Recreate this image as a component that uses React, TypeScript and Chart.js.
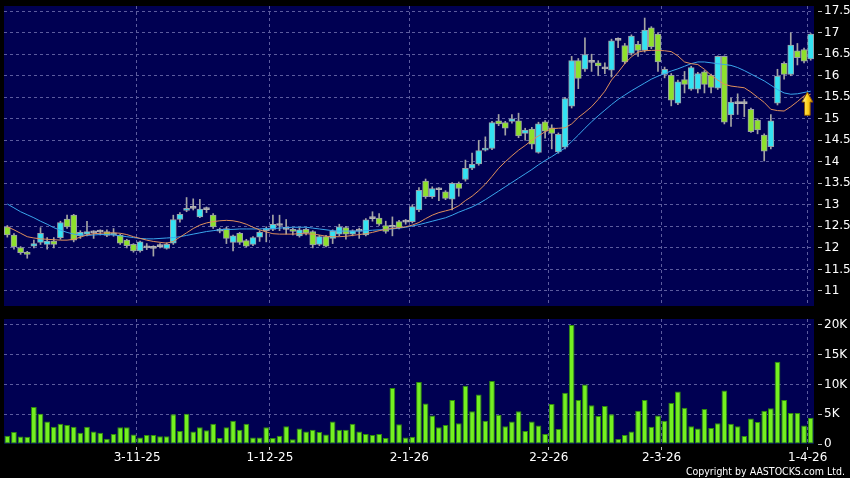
import React, { useEffect, useRef } from 'react';
import { Chart, registerables } from 'chart.js';

Chart.register(...registerables);

// ---------- data ----------
const HOLIDAYS = ['2025-10-07', '2025-10-29', '2025-12-25', '2025-12-26', '2026-01-01', '2026-02-17', '2026-02-18', '2026-02-19'];

function tradingDays(startISO: string, endISO: string): string[] {
  const out: string[] = [];
  const d = new Date(startISO + 'T00:00:00Z');
  const end = new Date(endISO + 'T00:00:00Z').getTime();
  while (d.getTime() <= end) {
    const iso = d.toISOString().slice(0, 10);
    const wd = d.getUTCDay();
    if (wd !== 0 && wd !== 6 && !HOLIDAYS.includes(iso)) {
      out.push(`${d.getUTCDate()}-${d.getUTCMonth() + 1}-${String(d.getUTCFullYear()).slice(2)}`);
    }
    d.setUTCDate(d.getUTCDate() + 1);
  }
  return out;
}

const CATEGORIES = tradingDays('2025-10-02', '2026-04-01');
const TICK_LABELS = ['3-11-25', '1-12-25', '2-1-26', '2-2-26', '2-3-26', '1-4-26'];
const PRICE_TICKS = [11, 11.5, 12, 12.5, 13, 13.5, 14, 14.5, 15, 15.5, 16, 16.5, 17, 17.5];
const VOLUME_TICKS = [0, 5, 10, 15, 20];

const OPEN = [
  12.49, 12.30, 12.01, 11.90, 12.04, 12.13, 12.08, 12.16, 12.24, 12.67,
  12.76, 12.28, 12.32, 12.35, 12.37, 12.38, 12.30, 12.30, 12.18, 12.08,
  11.93, 12.00, 11.99, 12.03, 11.99, 12.11, 12.66, 12.87, 12.92, 12.72,
  12.89, 12.76, 12.39, 12.45, 12.13, 12.34, 12.17, 12.08, 12.25, 12.40,
  12.43, 12.52, 12.43, 12.43, 12.28, 12.43, 12.38, 12.08, 12.26, 12.22,
  12.32, 12.47, 12.32, 12.39, 12.30, 12.68, 12.69, 12.52, 12.48, 12.61,
  12.60, 12.61, 12.88, 13.55, 13.19, 13.35, 13.30, 13.13, 13.50, 13.59,
  13.85, 13.95, 14.27, 14.31, 14.95, 14.91, 14.94, 14.95, 14.66, 14.76,
  14.22, 14.93, 14.79, 14.23, 14.34, 15.29, 16.35, 16.15, 16.31, 16.30,
  16.16, 16.13, 16.82, 16.70, 16.52, 16.73, 16.59, 17.11, 16.97, 16.03,
  16.01, 15.36, 15.91, 15.69, 15.69, 16.09, 16.01, 15.71, 16.45, 15.09,
  15.35, 15.35, 15.22, 14.97, 14.62, 14.35, 15.36, 16.29, 16.03, 16.58,
  16.61, 16.39,
];
const HIGH = [
  12.52, 12.33, 12.03, 11.92, 12.18, 12.47, 12.24, 12.24, 12.62, 12.76,
  12.78, 12.40, 12.62, 12.40, 12.42, 12.42, 12.45, 12.32, 12.20, 12.10,
  12.16, 12.10, 12.05, 12.10, 12.12, 12.76, 12.82, 13.17, 13.14, 13.13,
  12.95, 12.80, 12.46, 12.48, 12.30, 12.36, 12.20, 12.26, 12.40, 12.49,
  12.76, 12.76, 12.66, 12.46, 12.47, 12.46, 12.40, 12.29, 12.29, 12.42,
  12.55, 12.50, 12.42, 12.46, 12.68, 12.84, 12.80, 12.62, 12.72, 12.64,
  12.66, 13.00, 13.40, 13.60, 13.42, 13.40, 13.33, 13.52, 13.53, 14.04,
  14.20, 14.50, 14.58, 14.94, 15.10, 14.94, 15.10, 15.13, 14.78, 14.80,
  14.92, 14.96, 14.86, 14.67, 15.50, 16.45, 16.40, 16.88, 16.50, 16.35,
  16.30, 16.85, 16.88, 16.75, 16.95, 16.80, 17.34, 17.14, 17.00, 16.20,
  16.05, 15.90, 16.10, 16.22, 16.08, 16.12, 16.04, 16.46, 16.46, 15.48,
  15.58, 15.45, 15.25, 15.00, 14.65, 15.10, 16.15, 16.32, 17.00, 16.75,
  16.64, 16.98,
];
const LOW = [
  12.25, 11.97, 11.85, 11.76, 12.00, 12.08, 11.97, 12.00, 12.20, 12.45,
  12.14, 12.22, 12.28, 12.22, 12.30, 12.26, 12.27, 12.08, 12.00, 11.90,
  11.90, 11.96, 11.81, 12.00, 11.97, 12.08, 12.60, 12.84, 12.88, 12.70,
  12.82, 12.45, 12.35, 12.10, 11.93, 12.08, 12.02, 12.05, 12.15, 12.14,
  12.40, 12.40, 12.32, 12.30, 12.25, 12.30, 12.00, 12.05, 12.02, 12.10,
  12.28, 12.20, 12.28, 12.22, 12.28, 12.62, 12.52, 12.34, 12.28, 12.44,
  12.55, 12.58, 12.84, 13.15, 13.15, 13.10, 13.12, 12.88, 13.20, 13.55,
  13.82, 13.92, 14.25, 14.28, 14.84, 14.62, 14.90, 14.56, 14.50, 14.30,
  14.20, 14.55, 14.30, 14.20, 14.30, 15.25, 15.70, 16.10, 16.10, 16.00,
  16.05, 15.97, 16.65, 16.28, 16.48, 16.45, 16.55, 16.63, 16.10, 15.95,
  15.30, 15.33, 15.60, 15.66, 15.60, 15.60, 15.60, 15.68, 14.88, 14.82,
  15.10, 15.05, 14.68, 14.65, 14.02, 14.30, 15.32, 15.92, 16.00, 16.25,
  16.30, 16.36,
];
const CLOSE = [
  12.30, 12.03, 11.89, 11.85, 12.10, 12.34, 12.16, 12.08, 12.59, 12.49,
  12.18, 12.36, 12.38, 12.37, 12.38, 12.29, 12.35, 12.11, 12.05, 11.93,
  12.14, 12.02, 12.01, 12.05, 12.08, 12.66, 12.78, 12.92, 12.94, 12.90,
  12.91, 12.49, 12.41, 12.22, 12.28, 12.13, 12.04, 12.24, 12.36, 12.44,
  12.55, 12.54, 12.45, 12.38, 12.42, 12.35, 12.07, 12.26, 12.04, 12.39,
  12.49, 12.32, 12.40, 12.41, 12.65, 12.70, 12.55, 12.38, 12.50, 12.47,
  12.62, 12.96, 13.34, 13.19, 13.38, 13.37, 13.15, 13.50, 13.38, 13.85,
  13.94, 14.26, 14.31, 14.91, 14.88, 14.78, 15.00, 14.60, 14.74, 14.41,
  14.88, 14.71, 14.66, 14.64, 15.47, 16.35, 15.94, 16.49, 16.33, 16.23,
  16.18, 16.81, 16.84, 16.32, 16.92, 16.59, 17.06, 16.67, 16.32, 16.15,
  15.43, 15.86, 15.80, 16.19, 16.05, 15.80, 15.73, 16.45, 14.92, 15.39,
  15.37, 15.37, 14.70, 14.74, 14.25, 14.95, 15.99, 16.03, 16.71, 16.42,
  16.34, 16.97,
];
const MA10 = [
  12.49, 12.42, 12.34, 12.26, 12.23, 12.21, 12.20, 12.19, 12.18, 12.18,
  12.20, 12.25, 12.30, 12.33, 12.34, 12.35, 12.35, 12.34, 12.31, 12.26,
  12.22, 12.18, 12.15, 12.13, 12.11, 12.15, 12.25, 12.35, 12.45, 12.53,
  12.58, 12.61, 12.63, 12.64, 12.63, 12.60, 12.55, 12.48, 12.42, 12.37,
  12.33, 12.32, 12.32, 12.32, 12.33, 12.33, 12.32, 12.30, 12.27, 12.26,
  12.26, 12.27, 12.29, 12.31, 12.33, 12.36, 12.40, 12.43, 12.45, 12.47,
  12.49, 12.53, 12.59, 12.68, 12.76, 12.82, 12.86, 12.90, 12.98, 13.10,
  13.20, 13.33, 13.48, 13.66, 13.85, 14.00, 14.14, 14.27, 14.38, 14.50,
  14.60, 14.70, 14.77, 14.78, 14.79, 14.88, 15.03, 15.15, 15.28, 15.45,
  15.64, 15.90, 16.08, 16.28, 16.44, 16.55, 16.58, 16.59, 16.59, 16.58,
  16.56, 16.46, 16.32, 16.28, 16.26, 16.15, 16.01, 15.90, 15.80, 15.76,
  15.74, 15.72, 15.62, 15.50, 15.38, 15.22, 15.19, 15.18, 15.28, 15.40,
  15.53, 15.57,
];
const MA20 = [
  13.02, 12.93, 12.84, 12.77, 12.70, 12.62, 12.55, 12.47, 12.41, 12.36,
  12.32, 12.30, 12.29, 12.30, 12.31, 12.31, 12.30, 12.28, 12.26, 12.24,
  12.22, 12.21, 12.21, 12.22, 12.23, 12.24, 12.26, 12.29, 12.32, 12.35,
  12.38, 12.40, 12.42, 12.43, 12.43, 12.44, 12.44, 12.44, 12.44, 12.45,
  12.45, 12.46, 12.47, 12.48, 12.48, 12.48, 12.46, 12.44, 12.42, 12.40,
  12.39, 12.39, 12.39, 12.39, 12.40, 12.41, 12.42, 12.43, 12.44, 12.46,
  12.48, 12.51, 12.54, 12.58, 12.62, 12.66, 12.70, 12.76, 12.83, 12.89,
  12.95, 13.03, 13.12, 13.22, 13.32, 13.42, 13.52, 13.62, 13.72, 13.82,
  13.93, 14.03, 14.12, 14.22, 14.32, 14.47, 14.62, 14.78, 14.93, 15.07,
  15.20, 15.33, 15.45, 15.55, 15.65, 15.74, 15.83, 15.92, 15.99, 16.05,
  16.11, 16.16, 16.22, 16.28, 16.32, 16.32, 16.30, 16.28, 16.26, 16.24,
  16.19, 16.12, 16.04, 15.96, 15.88, 15.78, 15.68, 15.60, 15.57, 15.58,
  15.61, 15.64,
];
const VOLUME_K = [
  1.4, 2.0, 1.25, 1.2, 6.2, 5.1, 3.8, 2.9, 3.4, 3.2,
  2.9, 1.9, 2.9, 2.1, 1.9, 0.9, 1.7, 2.8, 2.8, 1.6,
  1.1, 1.5, 1.5, 1.3, 1.3, 5.0, 2.2, 5.1, 2.1, 2.8,
  2.3, 3.4, 1.0, 2.8, 3.9, 2.4, 3.4, 1.1, 1.1, 2.8,
  1.0, 1.4, 3.0, 0.8, 2.6, 2.1, 2.4, 2.0, 1.6, 3.8,
  2.4, 2.4, 3.4, 2.1, 1.7, 1.5, 1.7, 1.0, 9.4, 3.3,
  1.1, 1.2, 10.4, 6.8, 4.8, 2.8, 3.2, 7.4, 3.5, 9.8,
  5.5, 8.3, 3.9, 10.6, 4.9, 3.0, 3.8, 5.5, 2.2, 3.8,
  3.1, 1.7, 6.7, 2.5, 8.6, 20.0, 7.4, 10.0, 6.5, 4.7,
  6.4, 5.0, 0.85, 1.5, 2.1, 5.6, 7.4, 2.9, 4.8, 3.9,
  6.9, 8.8, 6.1, 3.0, 2.6, 5.9, 2.7, 3.5, 9.0, 3.4,
  3.0, 1.35, 4.3, 3.7, 5.6, 6.0, 13.8, 7.4, 5.2, 5.2,
  3.1, 4.4,
];
const ARROW = { at: 120.5, tip: 15.62, base: 15.08 };

// ---------- styles ----------
const PLOT_BG = '#000052';
const GRID = '#5c5c9e';
const UP = '#33e2f2';
const DOWN = '#8ee02c';
const DOJI = '#b4b4b4';
const EDGE = '#9aa0a8';
const FONT = { family: 'DejaVu Sans', size: 12 };

const TICK_IDX = TICK_LABELS.map((l) => CATEGORIES.indexOf(l));

const bgPlugin = {
  id: 'plotBg',
  beforeDraw(chart: any) {
    const { ctx, chartArea } = chart;
    ctx.save();
    ctx.fillStyle = PLOT_BG;
    ctx.fillRect(chartArea.left, chartArea.top, chartArea.right - chartArea.left, chartArea.bottom - chartArea.top);
    ctx.restore();
  },
};

const arrowPlugin = {
  id: 'upArrow',
  afterDatasetsDraw(chart: any) {
    const { ctx, scales } = chart;
    const cx = scales.x.getPixelForValue(ARROW.at);
    const yt = scales.y.getPixelForValue(ARROW.tip);
    const yb = scales.y.getPixelForValue(ARROW.base);
    const hw = 5.5, sw = 2.8, hh = 10;
    ctx.save();
    ctx.beginPath();
    ctx.moveTo(cx, yt);
    ctx.lineTo(cx + hw, yt + hh);
    ctx.lineTo(cx + sw, yt + hh);
    ctx.lineTo(cx + sw, yb);
    ctx.lineTo(cx - sw, yb);
    ctx.lineTo(cx - sw, yt + hh);
    ctx.lineTo(cx - hw, yt + hh);
    ctx.closePath();
    const g = ctx.createLinearGradient(cx - hw, 0, cx + hw, 0);
    g.addColorStop(0, '#fff6a8');
    g.addColorStop(0.5, '#ffd31c');
    g.addColorStop(1, '#e39600');
    ctx.fillStyle = g;
    ctx.fill();
    ctx.strokeStyle = '#8a5800';
    ctx.lineWidth = 1;
    ctx.stroke();
    ctx.restore();
  },
};

function xGridColor(c: any) {
  return TICK_IDX.includes(c.index) ? GRID : 'rgba(0,0,0,0)';
}

export default function App() {
  const priceRef = useRef<HTMLCanvasElement>(null);
  const volRef = useRef<HTMLCanvasElement>(null);

  useEffect(() => {
    const bodies = OPEN.map((o, i) => {
      const c = CLOSE[i];
      return [Math.min(o, c), Math.max(o, c)];
    });
    const wicks = LOW.map((l, i) => [l, HIGH[i]]);
    const kind = OPEN.map((o, i) => (Math.abs(CLOSE[i] - o) <= 0.021 ? 'doji' : CLOSE[i] > o ? 'up' : 'down'));
    const fill = kind.map((k) => (k === 'doji' ? DOJI : k === 'up' ? UP : DOWN));
    const edge = kind.map((k) => (k === 'doji' ? DOJI : EDGE));

    const price = new Chart(priceRef.current!, {
      type: 'bar',
      data: {
        labels: CATEGORIES,
        datasets: [
          { type: 'line', label: 'MA10', data: MA10, borderColor: '#e0905c', borderWidth: 1, pointRadius: 0, order: 0 } as any,
          { type: 'line', label: 'MA20', data: MA20, borderColor: '#3aa6ec', borderWidth: 1, pointRadius: 0, order: 0 } as any,
          {
            type: 'bar', label: 'body', data: bodies, backgroundColor: fill, borderColor: edge, borderWidth: 1,
            borderSkipped: false, barThickness: 6, grouped: false, order: 1, minBarLength: 2,
          } as any,
          { type: 'bar', label: 'wick', data: wicks, backgroundColor: '#a4a4a4', barThickness: 1, grouped: false, order: 2 } as any,
        ],
      },
      options: {
        animation: false,
        responsive: false,
        maintainAspectRatio: false,
        layout: { padding: { left: 4, top: 6, right: 0, bottom: 4 } },
        plugins: { legend: { display: false }, tooltip: { enabled: false } },
        scales: {
          x: {
            offset: true,
            grid: { offset: true, drawTicks: false, color: xGridColor },
            border: { display: false, dash: [3, 3] },
            ticks: { display: false, autoSkip: false },
            afterFit: (a: any) => { a.height = 0; a.paddingLeft = 0; a.paddingRight = 0; },
          },
          y: {
            position: 'right',
            min: 10.65,
            max: 17.62,
            afterBuildTicks: (a: any) => { a.ticks = PRICE_TICKS.map((v) => ({ value: v })); },
            ticks: { color: '#ffffff', font: FONT, padding: 2, callback: (v: any) => String(v) },
            grid: { color: GRID, drawTicks: true, tickLength: 8, tickColor: '#b8b8b8', tickBorderDash: [0, 4, 4] },
            border: { display: false, dash: [3, 3] },
            afterFit: (a: any) => { a.width = 36; a.paddingTop = 0; a.paddingBottom = 0; },
          },
        },
      } as any,
      plugins: [bgPlugin, arrowPlugin],
    });

    const vol = new Chart(volRef.current!, {
      type: 'bar',
      data: {
        labels: CATEGORIES,
        datasets: [
          {
            label: 'Volume', data: VOLUME_K, backgroundColor: '#74f020', borderColor: '#2f8c0c', borderWidth: 1,
            borderSkipped: false, barPercentage: 0.86, categoryPercentage: 1,
          } as any,
        ],
      },
      options: {
        animation: false,
        responsive: false,
        maintainAspectRatio: false,
        layout: { padding: { left: 4, top: 9, right: 0, bottom: 0 } },
        plugins: { legend: { display: false }, tooltip: { enabled: false } },
        scales: {
          x: {
            offset: true,
            grid: {
              offset: true, drawTicks: true, tickLength: 6, color: xGridColor,
              tickColor: (c: any) => (TICK_IDX.includes(c.index) ? '#b8b8b8' : 'rgba(0,0,0,0)'),
              tickBorderDash: [0, 3, 3],
            },
            border: { display: false, dash: [3, 3] },
            ticks: {
              autoSkip: false, maxRotation: 0, minRotation: 0, color: '#ffffff', font: FONT, padding: 1, labelOffset: -3,
              callback: (_v: any, i: number) => (TICK_LABELS.includes(CATEGORIES[i]) ? CATEGORIES[i] : ''),
            },
            afterFit: (a: any) => { a.height = 34; a.paddingLeft = 0; a.paddingRight = 0; },
          },
          y: {
            position: 'right',
            min: 0,
            max: 21,
            afterBuildTicks: (a: any) => { a.ticks = VOLUME_TICKS.map((v) => ({ value: v })); },
            ticks: { color: '#ffffff', font: FONT, padding: 2, callback: (v: any) => (v === 0 ? '0' : v + 'K') },
            grid: {
              color: (c: any) => (c.tick && c.tick.value === 0 ? 'rgba(0,0,0,0)' : GRID),
              drawTicks: true, tickLength: 8, tickColor: '#b8b8b8', tickBorderDash: [0, 4, 4],
            },
            border: { display: false, dash: [3, 3] },
            afterFit: (a: any) => { a.width = 36; a.paddingTop = 0; a.paddingBottom = 0; },
          },
        },
      } as any,
      plugins: [bgPlugin],
    });

    return () => {
      price.destroy();
      vol.destroy();
    };
  }, []);

  return (
    <div style={{ position: 'fixed', left: 0, top: 0, width: 850, height: 478, background: '#000', overflow: 'hidden' }}>
      <canvas ref={priceRef} width={850} height={310} style={{ position: 'absolute', left: 0, top: 0 }} />
      <canvas ref={volRef} width={850} height={168} style={{ position: 'absolute', left: 0, top: 310 }} />
      <div
        style={{
          position: 'absolute', right: 5, top: 465, color: '#ffffff', whiteSpace: 'nowrap',
          font: "10.5px 'DejaVu Sans Condensed', 'DejaVu Sans', sans-serif", lineHeight: '12px',
        }}
      >
        Copyright by AASTOCKS.com Ltd.
      </div>
    </div>
  );
}
